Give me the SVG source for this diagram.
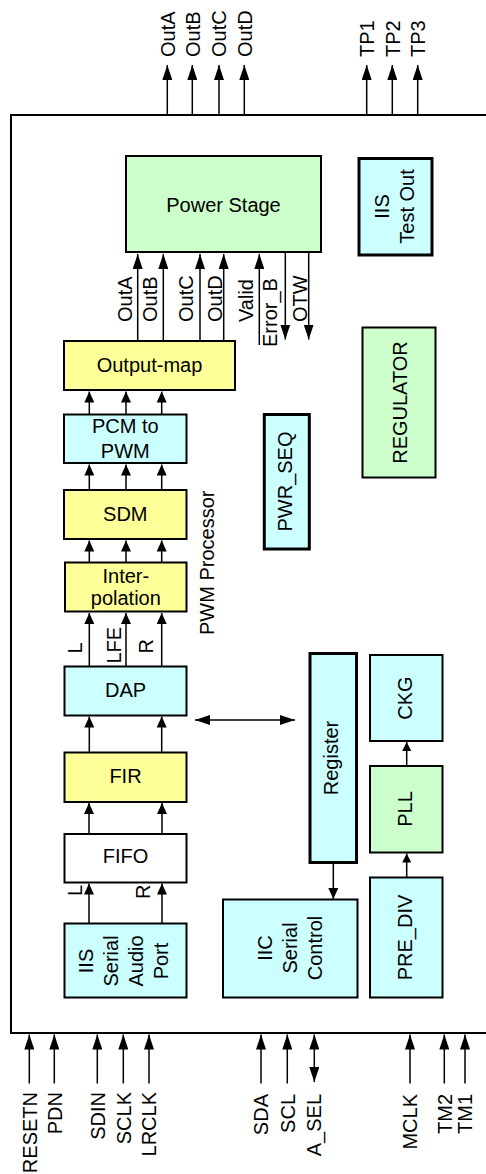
<svg xmlns="http://www.w3.org/2000/svg" width="486" height="1174" viewBox="0 0 486 1174">
<style>
text{font-family:"Liberation Sans",Arial,Helvetica,sans-serif;font-size:20px;fill:#000}
.m{text-anchor:middle}
.e{text-anchor:end}
.s{text-anchor:start}
.box{stroke:#000;stroke-width:2}
.thick{stroke-width:3}
.g{fill:#CCFFCC}
.c{fill:#CCFFFF}
.y{fill:#FFFF99}
.w{fill:#FFFFFF}
.ln{fill:none;stroke:#000;stroke-width:1.5}
.frame{fill:none;stroke:#000;stroke-width:2}
</style>
<defs>
<marker id="ah" markerUnits="userSpaceOnUse" markerWidth="15" markerHeight="10" refX="15" refY="5" orient="auto-start-reverse" viewBox="0 0 15 10"><path d="M0,0 L15,5 L0,10 z" fill="#000"/></marker>
<marker id="am" markerUnits="userSpaceOnUse" markerWidth="11" markerHeight="10" refX="11" refY="5" orient="auto-start-reverse" viewBox="0 0 11 10"><path d="M0,0 L11,5 L0,10 z" fill="#000"/></marker>
<marker id="as" markerUnits="userSpaceOnUse" markerWidth="9" markerHeight="9" refX="9" refY="4.5" orient="auto-start-reverse" viewBox="0 0 9 9"><path d="M0,0 L9,4.5 L0,9 z" fill="#000"/></marker>
</defs>

<g id="chip-frame">
<path class="frame" d="M500,115 H11 V1033 H500"/>
</g>

<g id="power-stage"><rect class="box g" x="126" y="156" width="195" height="96"/><text class="m" x="223.5" y="211.5">Power Stage</text></g>
<g id="iis-test-out"><rect class="box thick c" x="359" y="158.5" width="73" height="96.5"/><text class="m" transform="translate(389,206.5) rotate(-90)"><tspan x="0" dy="0">IIS</tspan><tspan x="0" dy="25">Test Out</tspan></text></g>
<g id="regulator"><rect class="box g" x="362.5" y="327.5" width="73" height="150"/><text class="m" transform="translate(406.5,402.5) rotate(-90)">REGULATOR</text></g>
<g id="pwr-seq"><rect class="box thick c" x="264.3" y="414.5" width="45" height="134.5"/><text class="m" transform="translate(291.5,481.5) rotate(-90)">PWR_SEQ</text></g>
<g id="output-map"><rect class="box y" x="64" y="341" width="171" height="49"/><text class="m" x="149.5" y="372">Output-map</text></g>
<g id="pcm-to-pwm"><rect class="box c" x="64" y="414.5" width="122.5" height="48.5"/><text class="m" x="125.3" y="432.5">PCM to</text><text class="m" x="125.3" y="457.5">PWM</text></g>
<g id="sdm"><rect class="box y" x="64" y="490" width="122.5" height="49"/><text class="m" x="125.3" y="521">SDM</text></g>
<g id="interpolation"><rect class="box y" x="65" y="562.5" width="121.5" height="49"/><text class="m" x="125.8" y="582.5">Inter-</text><text class="m" x="125.8" y="604.5">polation</text></g>
<g id="pwm-processor-label"><text class="s" transform="translate(214,635) rotate(-90)">PWM Processor</text></g>
<g id="dap"><rect class="box c" x="64.5" y="666.5" width="122" height="49"/><text class="m" x="125.5" y="696.5">DAP</text></g>
<g id="fir"><rect class="box y" x="64.5" y="752.5" width="122" height="49.5"/><text class="m" x="125.5" y="783">FIR</text></g>
<g id="fifo"><rect class="box w" x="64.5" y="834" width="122" height="48.5"/><text class="m" x="125.5" y="863">FIFO</text></g>
<g id="iis-serial-audio-port"><rect class="box c" x="64.5" y="923.5" width="122" height="74"/><text class="m" transform="translate(93.3,961) rotate(-90)"><tspan x="0" dy="0">IIS</tspan><tspan x="0" dy="25">Serial</tspan><tspan x="0" dy="25">Audio</tspan><tspan x="0" dy="25">Port</tspan></text></g>
<g id="register"><rect class="box thick c" x="310" y="653.5" width="46.5" height="209"/><text class="m" transform="translate(337.7,758) rotate(-90)">Register</text></g>
<g id="iic-serial-control"><rect class="box c" x="223" y="899.5" width="134.5" height="98"/><text class="m" transform="translate(271.7,948) rotate(-90)"><tspan x="0" dy="0">IIC</tspan><tspan x="0" dy="25">Serial</tspan><tspan x="0" dy="25">Control</tspan></text></g>
<g id="ckg"><rect class="box c" x="370" y="655" width="72.5" height="86"/><text class="m" transform="translate(411.7,698) rotate(-90)">CKG</text></g>
<g id="pll"><rect class="box g" x="370" y="766" width="72.5" height="86.5"/><text class="m" transform="translate(411.7,809) rotate(-90)">PLL</text></g>
<g id="pre-div"><rect class="box c" x="370" y="877.5" width="72.5" height="120"/><text class="m" transform="translate(411.7,937.5) rotate(-90)">PRE_DIV</text></g>

<g id="connectors">
<path class="ln" marker-end="url(#ah)" d="M167.3,115 V65"/>
<path class="ln" marker-end="url(#ah)" d="M192.3,115 V65"/>
<path class="ln" marker-end="url(#ah)" d="M219,115 V65"/>
<path class="ln" marker-end="url(#ah)" d="M244.3,115 V65"/>
<path class="ln" marker-end="url(#ah)" d="M366.7,115 V65"/>
<path class="ln" marker-end="url(#ah)" d="M392.3,115 V65"/>
<path class="ln" marker-end="url(#ah)" d="M417.7,115 V65"/>
<path class="ln" marker-end="url(#ah)" d="M137.7,341 V254"/>
<path class="ln" marker-end="url(#ah)" d="M163.3,341 V254"/>
<path class="ln" marker-end="url(#ah)" d="M200,341 V254"/>
<path class="ln" marker-end="url(#ah)" d="M223.7,341 V254"/>
<path class="ln" marker-end="url(#ah)" d="M259.3,345 V254"/>
<path class="ln" marker-end="url(#ah)" d="M285.3,253 V339.5"/>
<path class="ln" marker-end="url(#ah)" d="M308.7,253 V339.5"/>
<path class="ln" marker-end="url(#am)" d="M89.3,414.5 V391.5"/>
<path class="ln" marker-end="url(#am)" d="M126,414.5 V391.5"/>
<path class="ln" marker-end="url(#am)" d="M161.7,414.5 V391.5"/>
<path class="ln" marker-end="url(#am)" d="M89.3,490 V464.5"/>
<path class="ln" marker-end="url(#am)" d="M126,490 V464.5"/>
<path class="ln" marker-end="url(#am)" d="M161.7,490 V464.5"/>
<path class="ln" marker-end="url(#am)" d="M89.3,562.5 V540.5"/>
<path class="ln" marker-end="url(#am)" d="M126,562.5 V540.5"/>
<path class="ln" marker-end="url(#am)" d="M161.7,562.5 V540.5"/>
<path class="ln" marker-end="url(#am)" d="M89.3,666.5 V613"/>
<path class="ln" marker-end="url(#am)" d="M126,666.5 V613"/>
<path class="ln" marker-end="url(#am)" d="M161.7,666.5 V613"/>
<path class="ln" marker-end="url(#am)" d="M89.3,752.5 V716.5"/>
<path class="ln" marker-end="url(#am)" d="M161.7,752.5 V716.5"/>
<path class="ln" marker-end="url(#am)" d="M89,834 V803"/>
<path class="ln" marker-end="url(#am)" d="M162,834 V803"/>
<path class="ln" marker-end="url(#am)" d="M89,923.5 V883.5"/>
<path class="ln" marker-end="url(#am)" d="M162,923.5 V883.5"/>
<path class="ln" marker-start="url(#ah)" marker-end="url(#ah)" d="M195,720 H295"/>
<path class="ln" marker-end="url(#am)" d="M333.3,862.5 V899"/>
<path class="ln" marker-end="url(#as)" d="M406.7,766 V742"/>
<path class="ln" marker-end="url(#as)" d="M406.7,877.5 V853.5"/>
<path class="ln" marker-end="url(#ah)" d="M29.3,1083.5 V1034.5"/>
<path class="ln" marker-end="url(#ah)" d="M54.3,1083.5 V1034.5"/>
<path class="ln" marker-end="url(#ah)" d="M97.3,1083.5 V1034.5"/>
<path class="ln" marker-end="url(#ah)" d="M123.3,1083.5 V1034.5"/>
<path class="ln" marker-end="url(#ah)" d="M149,1083.5 V1034.5"/>
<path class="ln" marker-end="url(#ah)" d="M261,1083.5 V1034.5"/>
<path class="ln" marker-end="url(#ah)" d="M287.3,1083.5 V1034.5"/>
<path class="ln" marker-start="url(#ah)" marker-end="url(#ah)" d="M314.3,1082 V1034.5"/>
<path class="ln" marker-end="url(#ah)" d="M410,1083.5 V1034.5"/>
<path class="ln" marker-end="url(#ah)" d="M444.3,1083.5 V1034.5"/>
<path class="ln" marker-end="url(#ah)" d="M465,1083.5 V1034.5"/>
</g>

<g id="labels">
<text class="s" transform="translate(174.5,57) rotate(-90)">OutA</text>
<text class="s" transform="translate(199.5,57) rotate(-90)">OutB</text>
<text class="s" transform="translate(226.2,57) rotate(-90)">OutC</text>
<text class="s" transform="translate(251.5,57) rotate(-90)">OutD</text>
<text class="s" transform="translate(373.9,57) rotate(-90)">TP1</text>
<text class="s" transform="translate(399.5,57) rotate(-90)">TP2</text>
<text class="s" transform="translate(424.9,57) rotate(-90)">TP3</text>

<text class="s" transform="translate(131.7,322) rotate(-90)">OutA</text>
<text class="s" transform="translate(156.7,322) rotate(-90)">OutB</text>
<text class="s" transform="translate(192.7,322) rotate(-90)">OutC</text>
<text class="s" transform="translate(222.3,322) rotate(-90)">OutD</text>
<text class="s" transform="translate(253.3,322) rotate(-90)">Valid</text>
<text class="s" transform="translate(277,347) rotate(-90)">Error_B</text>
<text class="s" transform="translate(306.7,322) rotate(-90)">OTW</text>

<text class="s" transform="translate(81.7,653.5) rotate(-90)">L</text>
<text class="s" transform="translate(120.7,663.5) rotate(-90)">LFE</text>
<text class="s" transform="translate(153.3,653.5) rotate(-90)">R</text>
<text class="s" transform="translate(81.7,896) rotate(-90)">L</text>
<text class="s" transform="translate(150,899) rotate(-90)">R</text>

<text class="e" transform="translate(36.5,1092) rotate(-90)">RESETN</text>
<text class="e" transform="translate(61.5,1092) rotate(-90)">PDN</text>
<text class="e" transform="translate(104.5,1092) rotate(-90)">SDIN</text>
<text class="e" transform="translate(130.5,1092) rotate(-90)">SCLK</text>
<text class="e" transform="translate(156.2,1092) rotate(-90)">LRCLK</text>
<text class="e" transform="translate(268.2,1094) rotate(-90)">SDA</text>
<text class="e" transform="translate(294.5,1094) rotate(-90)">SCL</text>
<text class="e" transform="translate(320.5,1094) rotate(-90)">A_SEL</text>
<text class="e" transform="translate(417.2,1094) rotate(-90)">MCLK</text>
<text class="e" transform="translate(451.5,1094) rotate(-90)">TM2</text>
<text class="e" transform="translate(472.2,1094) rotate(-90)">TM1</text>
</g>
</svg>
